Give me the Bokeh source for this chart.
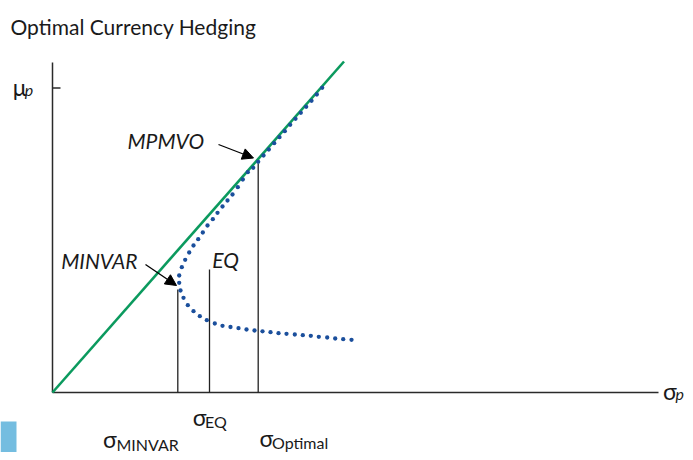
from bokeh.plotting import figure
from bokeh.models import Range1d, Arrow, NormalHead
from bokeh.core.properties import value
from bokeh.embed import file_html
from bokeh.resources import INLINE

# ---- data (sigma_p, mu_p in diagram units; origin at the axes corner) ----
frontier_sigma = [269.7, 264.3, 259.0, 253.7, 248.3, 243.0, 237.7, 232.3, 227.0, 221.7,
                  216.3, 211.0, 205.7, 200.7, 195.3, 190.3, 185.3, 180.0, 175.0, 170.0,
                  165.0, 160.3, 155.0, 150.3, 145.7, 141.0, 136.7, 132.7, 129.3, 126.7,
                  126.7, 128.0, 131.0, 135.3, 141.0, 147.3, 154.3, 162.3, 170.0, 178.0,
                  186.0, 194.0, 202.0, 210.0, 218.0, 226.0, 234.0, 242.3, 250.3, 258.3,
                  266.3, 274.7, 282.7, 290.7, 299.0]
frontier_mu = [304.7, 298.0, 291.7, 285.7, 279.7, 273.7, 267.7, 261.3, 255.3, 249.3,
               243.0, 237.0, 230.7, 224.7, 220.3, 213.0, 205.3, 198.0, 192.0, 186.0,
               179.7, 173.3, 167.0, 160.0, 153.3, 147.0, 140.0, 132.7, 125.3, 117.0,
               109.7, 102.0, 94.7, 87.3, 81.3, 76.3, 72.3, 69.0, 66.7, 65.5,
               64.3, 63.0, 62.0, 61.2, 60.3, 59.3, 58.7, 58.0, 57.3, 56.7,
               55.7, 55.0, 54.0, 53.3, 52.7]

cml_sigma = [0, 291.5]
cml_mu = [0, 331]

point_names = ["MINVAR", "EQ", "Optimal"]
point_sigma = [125.3, 157.0, 205.7]
point_mu = [103, 123, 229]

mu_tick = 304.5
axis_x_max = 606
axis_y_max = 330

title_text = "Optimal Currency Hedging"

# ---- figure ----
W, H = 685, 452
X0, Y0 = -52, 392  # data coords of canvas top-left
p = figure(width=W, height=H,
           x_range=Range1d(X0, X0 + W), y_range=Range1d(Y0 - H, Y0),
           output_backend="svg", toolbar_location=None, min_border=0,
           x_axis_type=None, y_axis_type=None)
p.grid.visible = False
p.outline_line_color = None
p.background_fill_color = "white"
p.border_fill_color = "white"

ink = "#1a1a1a"
green = "#0b9a5e"
blue = "#1b4f9c"
FONT = value("Lato")

# decorative side tab
p.quad(left=[X0], right=[-36], bottom=[Y0 - H], top=[-29], fill_color="#74bde0", line_color=None)

# axes
p.segment(x0=[0, 0, 0], y0=[0, 0, mu_tick], x1=[0, axis_x_max, 8], y1=[axis_y_max, 0, mu_tick],
          line_color="#2a2a2a", line_width=1.5)

# vertical drop lines
p.segment(x0=point_sigma, y0=[0, 0, 0], x1=point_sigma, y1=point_mu,
          line_color="#222222", line_width=1.3)

# capital market line
p.line(cml_sigma, cml_mu, line_color=green, line_width=2.6)

# frontier (dotted)
p.scatter(frontier_sigma, frontier_mu, size=4.3, fill_color=blue, line_color=None)

# arrows
for xs, ys, xe, ye in [(93, 128, 124, 107), (166, 248, 201, 234.5)]:
    p.add_layout(Arrow(end=NormalHead(size=11, fill_color="black", line_color="black", line_width=1),
                       x_start=xs, y_start=ys, x_end=xe, y_end=ye,
                       line_color="black", line_width=1.3))

# title
p.text(x=[-42], y=[366], text=[title_text], text_font=FONT, text_font_size="21px",
       text_color=ink, text_baseline="alphabetic", text_align="left")

# italic point labels
p.text(x=[8.7, 159.7, 75], y=[132, 133, 252.5], text=["MINVAR", "EQ", "MPMVO"],
       text_font=FONT, text_font_size="21px", text_font_style="italic",
       text_color=ink, text_baseline="alphabetic", text_align="left")

# axis symbols
p.text(x=[-39.7, 140.3, 50.5, 207, 610.5], y=[305.5, -24, -46, -45.5, 2],
       text=["μ", "σ", "σ", "σ", "σ"], text_font=FONT, text_font_size="23px",
       text_color=ink, text_baseline="alphabetic", text_align="left")
p.text(x=[-27.7, 623], y=[303, -1], text=["p", "p"], text_font=FONT, text_font_size="16px",
       text_font_style="italic", text_color=ink, text_baseline="alphabetic", text_align="left")
p.text(x=[152.5, 64, 219.5], y=[-29, -51.5, -49.5], text=["EQ", "MINVAR", "Optimal"],
       text_font=FONT, text_font_size="16px", text_color=ink,
       text_baseline="alphabetic", text_align="left")

open("out.html", "w").write(file_html(p, INLINE))
